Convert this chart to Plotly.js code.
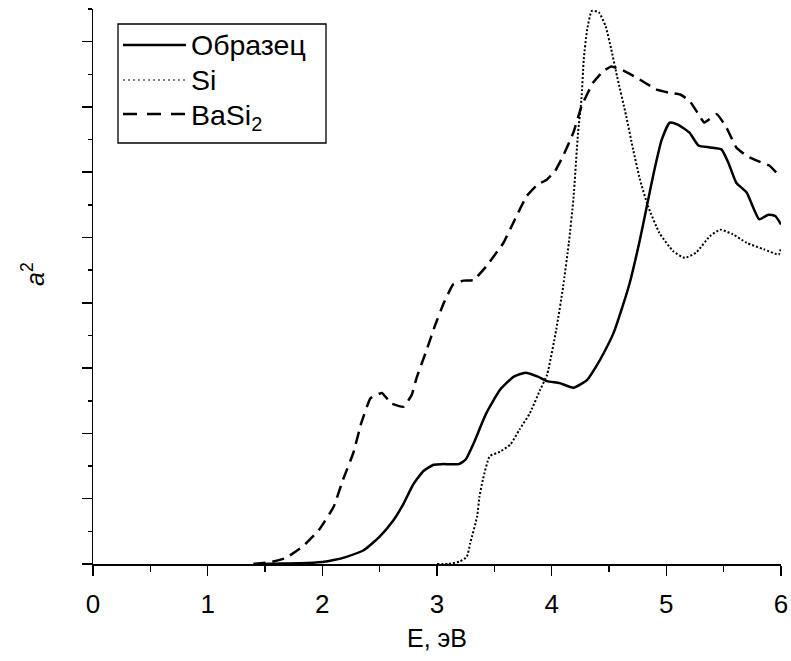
<!DOCTYPE html>
<html>
<head>
<meta charset="utf-8">
<script src="https://cdn.plot.ly/plotly-3.0.1.min.js"></script>
<style>
  html, body { margin: 0; padding: 0; background: #fff; }
  #chart { width: 791px; height: 661px; }
</style>
</head>
<body>
<div id="chart"></div>
<script>
// ---- data ----
const seriesNames = ["Образец", "Si", "BaSi<sub>2</sub>"];

const sampleE = [1.40, 1.60, 1.80, 2.00, 2.10, 2.21, 2.36, 2.50, 2.62, 2.71, 2.79, 2.88, 2.97, 3.05, 3.19, 3.25, 3.32, 3.43, 3.55, 3.67, 3.77, 3.88, 3.96, 4.07, 4.19, 4.31, 4.39, 4.46, 4.54, 4.61, 4.68, 4.77, 4.83, 4.89, 4.96, 5.03, 5.10, 5.20, 5.28, 5.38, 5.48, 5.54, 5.61, 5.70, 5.81, 5.89, 5.95, 6.00];
const sampleA = [0.00, 0.005, 0.01, 0.03, 0.06, 0.11, 0.21, 0.42, 0.67, 0.93, 1.21, 1.42, 1.52, 1.53, 1.53, 1.60, 1.85, 2.31, 2.67, 2.87, 2.93, 2.87, 2.80, 2.77, 2.70, 2.82, 3.03, 3.25, 3.54, 3.90, 4.30, 4.97, 5.48, 5.99, 6.50, 6.76, 6.73, 6.61, 6.41, 6.38, 6.35, 6.15, 5.84, 5.69, 5.28, 5.35, 5.33, 5.20];

const siE = [3.00, 3.10, 3.20, 3.26, 3.29, 3.35, 3.37, 3.40, 3.46, 3.55, 3.64, 3.72, 3.81, 3.90, 3.96, 4.04, 4.10, 4.15, 4.19, 4.23, 4.26, 4.28, 4.31, 4.35, 4.41, 4.47, 4.52, 4.57, 4.65, 4.71, 4.77, 4.84, 4.94, 5.06, 5.16, 5.26, 5.38, 5.47, 5.58, 5.70, 5.85, 5.98, 6.00];
const siA = [0.00, 0.00, 0.04, 0.11, 0.32, 0.73, 1.03, 1.29, 1.65, 1.72, 1.83, 2.06, 2.31, 2.67, 2.90, 3.59, 4.25, 4.92, 5.60, 6.60, 7.12, 7.73, 8.19, 8.47, 8.45, 8.24, 7.88, 7.47, 6.86, 6.35, 5.89, 5.48, 5.07, 4.79, 4.69, 4.77, 5.02, 5.12, 5.05, 4.92, 4.82, 4.74, 4.84];

const basiE = [1.40, 1.55, 1.68, 1.83, 1.97, 2.10, 2.18, 2.27, 2.34, 2.42, 2.52, 2.60, 2.71, 2.78, 2.82, 2.91, 2.98, 3.06, 3.14, 3.23, 3.32, 3.43, 3.58, 3.68, 3.78, 3.87, 3.96, 4.03, 4.10, 4.19, 4.26, 4.36, 4.45, 4.52, 4.62, 4.74, 4.91, 5.02, 5.12, 5.20, 5.28, 5.33, 5.44, 5.52, 5.61, 5.70, 5.80, 5.90, 6.00];
const basiA = [0.00, 0.03, 0.09, 0.27, 0.52, 0.88, 1.29, 1.70, 2.16, 2.54, 2.62, 2.46, 2.41, 2.59, 2.84, 3.28, 3.64, 4.00, 4.28, 4.34, 4.35, 4.56, 4.92, 5.28, 5.63, 5.80, 5.89, 6.02, 6.25, 6.61, 7.01, 7.37, 7.55, 7.62, 7.56, 7.45, 7.27, 7.22, 7.19, 7.10, 6.89, 6.76, 6.89, 6.70, 6.38, 6.25, 6.17, 6.10, 5.92];

const xTickVals = [0, 1, 2, 3, 4, 5, 6];
const xTickText = ["0", "1", "2", "3", "4", "5", "6"];
const xTitle = "E, эВ";
const yTitle = "<i>a</i><sup>2</sup>";

// ---- styles ----
const FONT = "Arial, 'Liberation Sans', sans-serif";
const styles = [
  { width: 2.5, dash: "solid", shape: "spline", smoothing: 0.5 },
  { width: 2, dash: "2px,2px", shape: "spline", smoothing: 0.5 },
  { width: 2.5, dash: "12px,7px", shape: "spline", smoothing: 0.3 }
];
const legendStyles = [
  { width: 2.5, dash: "solid" },
  { width: 1, dash: "2px,3px" },
  { width: 2.5, dash: "14px,10px" }
];

const traces = [
  { x: sampleE, y: sampleA, name: seriesNames[0] },
  { x: siE, y: siA, name: seriesNames[1] },
  { x: basiE, y: basiA, name: seriesNames[2] }
].map((t, i) => Object.assign(t, {
  type: "scatter", mode: "lines",
  line: { color: "#000", width: styles[i].width, dash: styles[i].dash,
          shape: styles[i].shape, smoothing: styles[i].smoothing },
  hoverinfo: "skip"
}));

// plot area in pixels
const W = 791, H = 661;
const M = { l: 93, r: 10, t: 9, b: 97 };
const PW = W - M.l - M.r, PH = H - M.t - M.b;
const px = (x) => (x - M.l) / PW;          // pixel -> paper x
const py = (y) => (H - M.b - y) / PH;      // pixel -> paper y

// custom legend (box, samples, labels)
const legRows = [45, 80, 114];
const shapes = [{
  type: "rect", xref: "paper", yref: "paper",
  x0: px(118), x1: px(326), y0: py(143), y1: py(24),
  line: { color: "#000", width: 1.3 }, fillcolor: "rgba(0,0,0,0)"
}];
const annotations = [];
seriesNames.forEach((n, i) => {
  shapes.push({
    type: "line", xref: "paper", yref: "paper",
    x0: px(123), x1: px(186), y0: py(legRows[i]), y1: py(legRows[i]),
    line: { color: "#000", width: legendStyles[i].width, dash: legendStyles[i].dash }
  });
  annotations.push({
    xref: "paper", yref: "paper", x: px(189), y: py(legRows[i] + (i === 2 ? 3 : 0)),
    xanchor: "left", yanchor: "middle", showarrow: false, text: n,
    font: { family: FONT, size: 28.5, color: "#000" }
  });
});
annotations.push({
  xref: "paper", yref: "paper", x: px(33), y: py(274),
  xanchor: "center", yanchor: "middle", showarrow: false, text: yTitle,
  textangle: -90, font: { family: FONT, size: 25, color: "#000" }
});

const layout = {
  width: W, height: H,
  margin: M,
  paper_bgcolor: "#fff", plot_bgcolor: "#fff",
  showlegend: false,
  font: { family: FONT, color: "#000" },
  xaxis: {
    range: [0, 6], tickmode: "array", tickvals: xTickVals, ticktext: xTickText,
    ticks: "outside", ticklen: 10, tickwidth: 1.5, tickcolor: "#000",
    ticklabelstandoff: 6,
    showline: true, linecolor: "#000", linewidth: 1.5,
    showgrid: false, zeroline: false,
    tickfont: { family: FONT, size: 26, color: "#000" },
    minor: { dtick: 0.5, ticks: "outside", ticklen: 6, tickwidth: 1.5, tickcolor: "#000", showgrid: false },
    title: { text: xTitle, font: { family: FONT, size: 25, color: "#000" }, standoff: 12 }
  },
  yaxis: {
    range: [0, 8.5], dtick: 1, tick0: 0,
    ticks: "outside", ticklen: 10, tickwidth: 1.5, tickcolor: "#000",
    showticklabels: false,
    showline: true, linecolor: "#000", linewidth: 1.5,
    showgrid: false, zeroline: false,
    minor: { dtick: 0.5, ticks: "outside", ticklen: 4, tickwidth: 1.5, tickcolor: "#000", showgrid: false }
  },
  shapes: shapes,
  annotations: annotations
};

Plotly.newPlot("chart", traces, layout, { staticPlot: true, displayModeBar: false });
</script>
</body>
</html>
